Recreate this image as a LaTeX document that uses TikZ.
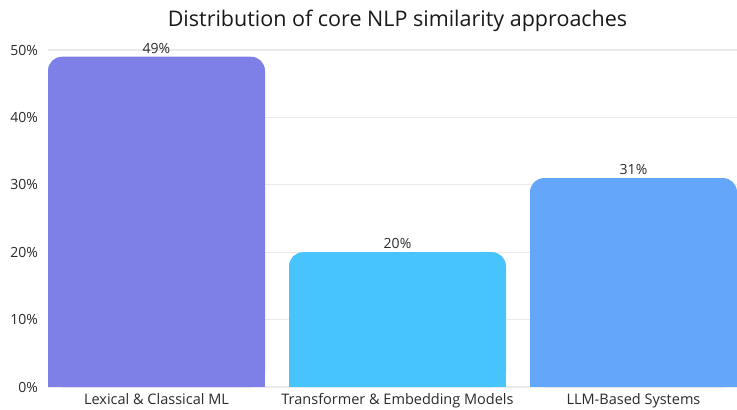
\documentclass[tikz,border=0pt]{standalone}
\usepackage{fontspec}
\setmainfont{Open Sans}
\definecolor{gridgray}{HTML}{EBEBEB}
\definecolor{txt}{HTML}{2B2B2B}
\definecolor{barA}{HTML}{7E80E7}
\definecolor{barB}{HTML}{48C4FD}
\definecolor{barC}{HTML}{64A6FA}
\tikzset{
  gridline/.style={draw=gridgray, line width=1.2pt},
  ticklabel/.style={anchor=east, text=txt, font=\fontsize{14}{16}\selectfont, inner sep=0pt},
  valuelabel/.style={anchor=center, text=txt, font=\fontsize{14}{16}\selectfont, inner sep=0pt},
  catlabel/.style={anchor=base, text=txt, font=\fontsize{14.5}{17}\selectfont, inner sep=0pt},
  titlelabel/.style={anchor=base, text=black!90, font=\fontsize{21.5}{25}\selectfont, inner sep=0pt},
}
\begin{document}
\begin{tikzpicture}[x=1pt, y=-1pt]
  \useasboundingbox (0,0) rectangle (737,410);
  \fill[white] (0,0) rectangle (737,410);
  % horizontal grid and percentage ticks
  \foreach \v in {0,10,20,30,40,50} {
    \coordinate (g\v) at (48, {387-6.74*\v});
    \coordinate (e\v) at (737, {387-6.74*\v});
    \draw[gridline] (g\v) -- (e\v);
    \node[ticklabel] (t\v) at (38, {387-6.74*\v}) {\v\%};
  }
  % bars with rounded top corners
  \foreach \name/\xa/\xb/\v/\col in {a/48/265/49/barA, b/289/506/20/barB, c/530/737/31/barC} {
    \fill[\col, rounded corners=14pt] (\xa, {387-6.74*\v}) rectangle (\xb, 387);
    \fill[\col] (\xa, {387-6.74*\v+20}) rectangle (\xb, 387);
    \node[valuelabel] (v\name) at ({(\xa+\xb)/2}, {387-6.74*\v-8.5}) {\v\%};
  }
  % category labels
  \node[catlabel] (ca) at (156.5, 404) {Lexical \& Classical ML};
  \node[catlabel] (cb) at (397.5, 404) {Transformer \& Embedding Models};
  \node[catlabel] (cc) at (633.5, 404) {LLM-Based Systems};
  % title
  \node[titlelabel] (title) at (397.5, 26) {Distribution of core NLP similarity approaches};
\end{tikzpicture}
\end{document}
